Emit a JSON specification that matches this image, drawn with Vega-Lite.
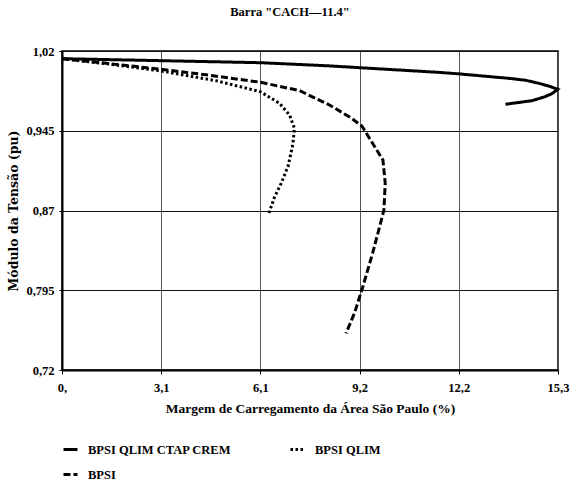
{
  "$schema": "https://vega.github.io/schema/vega-lite/v6.json",
  "width": 496,
  "height": 319,
  "autosize": {"type": "none"},
  "padding": {"left": 62, "top": 51, "right": 19, "bottom": 112},
  "background": "white",
  "title": {
    "text": "Barra \"CACH—11.4\"",
    "font": "Liberation Serif",
    "fontSize": 12.5,
    "fontWeight": "bold",
    "color": "black",
    "anchor": "middle",
    "dx": -20,
    "offset": 27
  },
  "config": {
    "view": {"stroke": "black", "strokeWidth": 1.5},
    "font": "Liberation Serif"
  },
  "data": {
    "values": [
      {"serie": "BPSI QLIM CTAP CREM", "i": 1, "margem": 0, "v": 1.0128},
      {"serie": "BPSI QLIM CTAP CREM", "i": 2, "margem": 3.06, "v": 1.0109},
      {"serie": "BPSI QLIM CTAP CREM", "i": 3, "margem": 6.12, "v": 1.009},
      {"serie": "BPSI QLIM CTAP CREM", "i": 4, "margem": 8.25, "v": 1.006},
      {"serie": "BPSI QLIM CTAP CREM", "i": 5, "margem": 9.18, "v": 1.0043},
      {"serie": "BPSI QLIM CTAP CREM", "i": 6, "margem": 11.63, "v": 0.9999},
      {"serie": "BPSI QLIM CTAP CREM", "i": 7, "margem": 12.24, "v": 0.9985},
      {"serie": "BPSI QLIM CTAP CREM", "i": 8, "margem": 13.78, "v": 0.9943},
      {"serie": "BPSI QLIM CTAP CREM", "i": 9, "margem": 14.3, "v": 0.9925},
      {"serie": "BPSI QLIM CTAP CREM", "i": 10, "margem": 14.71, "v": 0.9896},
      {"serie": "BPSI QLIM CTAP CREM", "i": 11, "margem": 15.02, "v": 0.987},
      {"serie": "BPSI QLIM CTAP CREM", "i": 12, "margem": 15.29, "v": 0.984},
      {"serie": "BPSI QLIM CTAP CREM", "i": 13, "margem": 15.12, "v": 0.98},
      {"serie": "BPSI QLIM CTAP CREM", "i": 14, "margem": 14.9, "v": 0.977},
      {"serie": "BPSI QLIM CTAP CREM", "i": 15, "margem": 14.5, "v": 0.9733},
      {"serie": "BPSI QLIM CTAP CREM", "i": 16, "margem": 13.68, "v": 0.9699},

      {"serie": "BPSI QLIM", "i": 1, "margem": 0, "v": 1.0128},
      {"serie": "BPSI QLIM", "i": 2, "margem": 1.5, "v": 1.0075},
      {"serie": "BPSI QLIM", "i": 3, "margem": 3.06, "v": 1.0012},
      {"serie": "BPSI QLIM", "i": 4, "margem": 4.76, "v": 0.992},
      {"serie": "BPSI QLIM", "i": 5, "margem": 6.12, "v": 0.9817},
      {"serie": "BPSI QLIM", "i": 6, "margem": 6.71, "v": 0.9708},
      {"serie": "BPSI QLIM", "i": 7, "margem": 7.02, "v": 0.9598},
      {"serie": "BPSI QLIM", "i": 8, "margem": 7.17, "v": 0.9473},
      {"serie": "BPSI QLIM", "i": 9, "margem": 7.12, "v": 0.932},
      {"serie": "BPSI QLIM", "i": 10, "margem": 6.97, "v": 0.9112},
      {"serie": "BPSI QLIM", "i": 11, "margem": 6.76, "v": 0.8955},
      {"serie": "BPSI QLIM", "i": 12, "margem": 6.56, "v": 0.883},
      {"serie": "BPSI QLIM", "i": 13, "margem": 6.38, "v": 0.8673},

      {"serie": "BPSI", "i": 1, "margem": 0, "v": 1.0128},
      {"serie": "BPSI", "i": 2, "margem": 1.5, "v": 1.008},
      {"serie": "BPSI", "i": 3, "margem": 3.06, "v": 1.0028},
      {"serie": "BPSI", "i": 4, "margem": 4.6, "v": 0.997},
      {"serie": "BPSI", "i": 5, "margem": 6.12, "v": 0.9906},
      {"serie": "BPSI", "i": 6, "margem": 7.33, "v": 0.9827},
      {"serie": "BPSI", "i": 7, "margem": 8.25, "v": 0.9692},
      {"serie": "BPSI", "i": 8, "margem": 8.87, "v": 0.958},
      {"serie": "BPSI", "i": 9, "margem": 9.25, "v": 0.9495},
      {"serie": "BPSI", "i": 10, "margem": 9.77, "v": 0.9238},
      {"serie": "BPSI", "i": 11, "margem": 9.9, "v": 0.9175},
      {"serie": "BPSI", "i": 12, "margem": 9.97, "v": 0.8955},
      {"serie": "BPSI", "i": 13, "margem": 9.93, "v": 0.8704},
      {"serie": "BPSI", "i": 14, "margem": 9.77, "v": 0.8516},
      {"serie": "BPSI", "i": 15, "margem": 9.58, "v": 0.8297},
      {"serie": "BPSI", "i": 16, "margem": 9.28, "v": 0.7983},
      {"serie": "BPSI", "i": 17, "margem": 9.02, "v": 0.7733},
      {"serie": "BPSI", "i": 18, "margem": 8.76, "v": 0.7544}
    ]
  },
  "mark": {"type": "line", "color": "black", "strokeWidth": 3, "strokeCap": "butt"},
  "encoding": {
    "x": {
      "field": "margem",
      "type": "quantitative",
      "scale": {"domain": [0, 15.3], "nice": false, "zero": false},
      "axis": {
        "title": "Margem de Carregamento da Área São Paulo (%)",
        "values": [0, 3.06, 6.12, 9.18, 12.24, 15.3],
        "labelExpr": "datum.value == 0 ? '0,' : replace(format(datum.value, '.1f'), '.', ',')",
        "labelFlush": false,
        "labelOverlap": false,
        "grid": true,
        "gridColor": "#555555",
        "gridWidth": 1,
        "gridOpacity": 1,
        "domainColor": "black",
        "domainWidth": 2,
        "tickColor": "black",
        "tickSize": 4,
        "tickWidth": 1,
        "labelFont": "Liberation Serif",
        "labelFontSize": 12.5,
        "labelFontWeight": "bold",
        "labelColor": "black",
        "labelPadding": 7,
        "titleFont": "Liberation Serif",
        "titleFontSize": 13.5,
        "titleFontWeight": "bold",
        "titleColor": "black",
        "titlePadding": 8
      }
    },
    "y": {
      "field": "v",
      "type": "quantitative",
      "scale": {"domain": [0.72, 1.02], "nice": false, "zero": false},
      "axis": {
        "title": "Módulo da Tensão (pu)",
        "values": [0.72, 0.795, 0.87, 0.945, 1.02],
        "labelExpr": "replace(format(datum.value, '.3~f'), '.', ',')",
        "labelOverlap": false,
        "grid": true,
        "gridColor": "#111111",
        "gridWidth": 1,
        "gridOpacity": 1,
        "domainColor": "black",
        "domainWidth": 2,
        "tickColor": "black",
        "tickSize": 3,
        "tickWidth": 1,
        "labelFont": "Liberation Serif",
        "labelFontSize": 12.5,
        "labelFontWeight": "bold",
        "labelColor": "black",
        "labelPadding": 5,
        "titleFont": "DejaVu Serif",
        "titleFontSize": 12.5,
        "titleFontWeight": "bold",
        "titleColor": "black",
        "titlePadding": 5
      }
    },
    "order": {"field": "i", "type": "quantitative"},
    "strokeDash": {
      "field": "serie",
      "type": "nominal",
      "scale": {
        "domain": ["BPSI QLIM CTAP CREM", "BPSI", "BPSI QLIM"],
        "range": [[1, 0], [7, 3], [2.5, 2.5]]
      },
      "legend": {
        "title": null,
        "orient": "none",
        "legendX": 0,
        "legendY": 390,
        "columns": 2,
        "columnPadding": 52,
        "rowPadding": 10,
        "symbolType": "stroke",
        "symbolSize": 196,
        "symbolStrokeWidth": 3,
        "symbolStrokeColor": "black",
        "labelFont": "Liberation Serif",
        "labelFontSize": 12.5,
        "labelFontWeight": "bold",
        "labelColor": "black",
        "labelOffset": 9
      }
    }
  }
}
